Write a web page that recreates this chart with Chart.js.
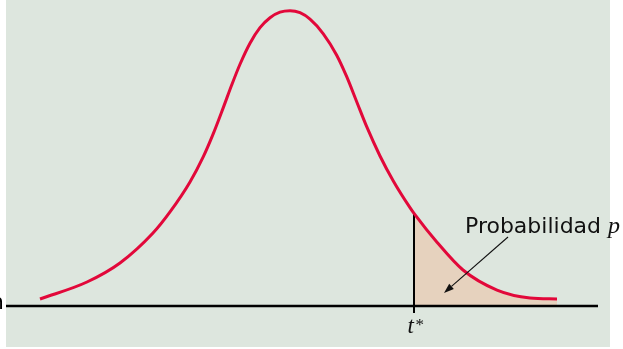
<!DOCTYPE html>
<html><head><meta charset="utf-8">
<script src="https://cdn.jsdelivr.net/npm/chart.js@4"></script>
<style>
html,body{margin:0;padding:0;background:#fff;width:623px;height:349px;overflow:hidden;}
canvas{position:absolute;left:0;top:0;}
</style></head><body>
<canvas id="c" width="623" height="349"></canvas>
<script>
// Values (t value, density)
const curveT = [-3.125, -2.5375, -2.125, -1.7125, -1.5, -1.25, -1.0833, -0.9588, -0.8338, -0.7288, -0.625, -0.5, -0.375, -0.25, -0.125, 0, 0.125, 0.25, 0.4163, 0.5838, 0.7088, 0.8338, 0.9588, 1.125, 1.2913, 1.5, 1.55, 1.8375, 2.1625, 2.5875, 3.0, 3.3375];
const curveDensity = [0.0090, 0.0308, 0.0552, 0.0937, 0.1208, 0.1593, 0.1918, 0.2213, 0.2547, 0.2837, 0.3104, 0.3374, 0.3573, 0.3701, 0.3772, 0.3791, 0.3765, 0.3682, 0.3495, 0.3220, 0.2944, 0.2623, 0.2302, 0.1926, 0.1605, 0.1262, 0.1189, 0.0819, 0.0462, 0.0205, 0.0103, 0.0090];
const tStar = 1.55;
const tStarLabel = ['t', '*'];
const probLabel = ['Probabilidad', 'p'];
const axisT = [-3.55, 3.85];
const arrowFrom = [2.725, 0.0886];
const arrowTo = [1.925, 0.0167];
const probLabelAt = [2.1875, 0.0937];
const clippedLabel = 'n';

const curvePts = curveT.map((t, i) => ({x: t, y: curveDensity[i]}));
const tailPts = curvePts.filter(p => p.x >= tStar);
const densityAtStar = curveDensity[curveT.indexOf(tStar)];

const bg = {
  id: 'bg',
  beforeDraw(chart) {
    const {ctx, chartArea: a} = chart;
    ctx.save();
    ctx.fillStyle = '#dde6de';
    ctx.fillRect(a.left, a.top, a.right - a.left, a.bottom - a.top);
    ctx.restore();
  }
};

const annot = {
  id: 'annot',
  afterDatasetsDraw(chart) {
    const {ctx, scales: {x, y}, chartArea: a} = chart;
    ctx.save();
    // arrow
    const x1 = x.getPixelForValue(arrowFrom[0]), y1 = y.getPixelForValue(arrowFrom[1]);
    const x2 = x.getPixelForValue(arrowTo[0]), y2 = y.getPixelForValue(arrowTo[1]);
    const ang = Math.atan2(y2 - y1, x2 - x1);
    const hl = 10, hw = 3.5;
    const bx = x2 - hl * Math.cos(ang), by = y2 - hl * Math.sin(ang);
    ctx.strokeStyle = '#111'; ctx.fillStyle = '#111'; ctx.lineWidth = 1.1;
    ctx.beginPath(); ctx.moveTo(x1, y1); ctx.lineTo(bx, by); ctx.stroke();
    ctx.beginPath();
    ctx.moveTo(x2, y2);
    ctx.lineTo(bx + hw * Math.sin(ang), by - hw * Math.cos(ang));
    ctx.lineTo(bx - hw * Math.sin(ang), by + hw * Math.cos(ang));
    ctx.closePath(); ctx.fill();
    // probability label
    const lx = x.getPixelForValue(probLabelAt[0]), ly = y.getPixelForValue(probLabelAt[1]);
    ctx.textBaseline = 'alphabetic'; ctx.textAlign = 'left';
    ctx.font = '22px "DejaVu Sans"';
    ctx.fillText(probLabel[0], lx, ly);
    const w = ctx.measureText(probLabel[0] + ' ').width;
    ctx.font = 'italic 24px "Liberation Serif"';
    ctx.fillText(probLabel[1], lx + w, ly);
    // t* label
    const tx = x.getPixelForValue(tStar);
    const base = y.getPixelForValue(0);
    ctx.font = 'italic 23px "Liberation Serif"';
    ctx.fillText(tStarLabel[0], tx - 6.5, base + 27);
    ctx.font = '17px "Liberation Serif"';
    ctx.fillText(tStarLabel[1], tx + 1.5, base + 24);
    // clipped label at the far left, outside the panel
    ctx.beginPath(); ctx.rect(0, base - 20, a.left - 3.8, 30); ctx.clip();
    ctx.font = '22px "DejaVu Sans"'; ctx.textAlign = 'right'; ctx.fillStyle = '#000';
    ctx.fillText(clippedLabel, a.left - 2, base + 3);
    ctx.restore();
  }
};

new Chart(document.getElementById('c'), {
  type: 'scatter',
  data: {
    datasets: [
      {data: curvePts, showLine: true, borderColor: '#e2083a', borderWidth: 3, pointRadius: 0, cubicInterpolationMode: 'monotone', fill: false, order: 0},
      {data: [{x: tStar, y: -0.009}, {x: tStar, y: densityAtStar}], showLine: true, borderColor: '#000', borderWidth: 2, pointRadius: 0, fill: false, order: 1},
      {data: [{x: axisT[0], y: 0}, {x: axisT[1], y: 0}], showLine: true, borderColor: '#000', borderWidth: 2.6, pointRadius: 0, fill: false, order: 2},
      {data: tailPts, showLine: true, borderWidth: 0, borderColor: 'rgba(0,0,0,0)', backgroundColor: '#e6d2be', pointRadius: 0, cubicInterpolationMode: 'monotone', fill: 'origin', order: 3}
    ]
  },
  options: {
    responsive: false, animation: false, devicePixelRatio: 1,
    layout: {padding: {left: 6, right: 13, top: 0, bottom: 2}},
    plugins: {legend: {display: false}, tooltip: {enabled: false}},
    events: [],
    scales: {
      x: {type: 'linear', display: false, min: -3.55, max: 4.0},
      y: {type: 'linear', display: false, min: -0.05264, max: 0.39286}
    }
  },
  plugins: [bg, annot]
});
</script>
</body></html>
